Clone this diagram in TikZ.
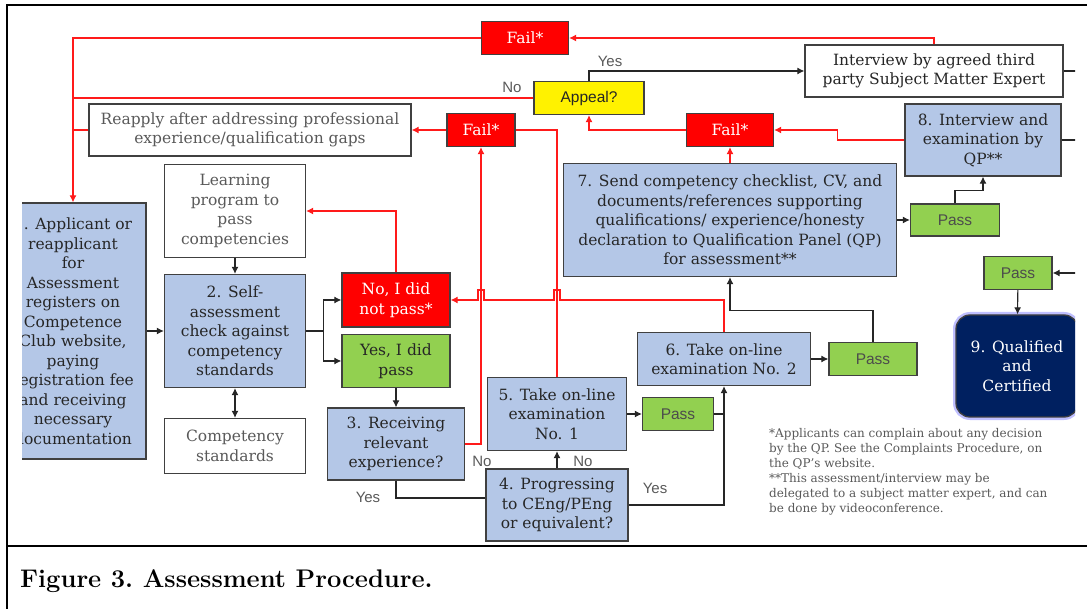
\documentclass[tikz,border=0pt]{standalone}
\usepackage{fontspec}
\newfontfamily\slabfont{DejaVu Serif}
\newfontfamily\labelfont{Liberation Sans}
\usetikzlibrary{arrows.meta}
\definecolor{boxblue}{HTML}{B4C7E7}
\definecolor{boxgreen}{HTML}{92D050}
\definecolor{boxnavy}{HTML}{002060}
\definecolor{linered}{HTML}{FF1A1A}
\definecolor{textgrey}{HTML}{595959}
\definecolor{textdark}{HTML}{262626}

\begin{document}
\begin{tikzpicture}[x=1pt,y=-1pt,
	box/.style={draw=black!75,line width=1.3pt,align=center,inner sep=0pt,
		font=\slabfont\fontsize{15.5}{19.5}\selectfont,text=textdark},
	bluebox/.style={box,fill=boxblue},
	whitebox/.style={box,fill=white,text=textgrey},
	failbox/.style={box,fill=red,text=white},
	passbox/.style={box,fill=boxgreen,text=black!70,font=\labelfont\fontsize{15.5}{19}\selectfont},
	wh/.style 2 args={minimum width=#1,minimum height=#2},
	redline/.style={draw=linered,line width=1.1pt},
	blkline/.style={draw=textdark,line width=1.1pt},
	arr/.style={-{Latex[length=7pt,width=7pt]}},
	lbl/.style={font=\labelfont\fontsize{15}{17}\selectfont,text=textgrey,inner sep=0pt}]
	\useasboundingbox (0,0) rectangle (1087,609);
	\draw[line width=2.5pt] (1087,5) -- (7,5) -- (7,609);
	\draw[line width=2.5pt] (7,546) -- (1087,546);
	\node[anchor=base west,inner sep=0pt,font=\bfseries\fontsize{25.5}{29}\selectfont\frenchspacing] (caption) at (20,587) {Figure 3. Assessment Procedure.};
	\coordinate (edge) at (1080,0);
	\begin{scope}
		\clip (22,7) rectangle (1075,545);
		\node[bluebox,wh={146}{256}] (s1) at (73,331) {1. Applicant or\\reapplicant\\for\\Assessment\\registers on\\Competence\\Club website,\\paying\\registration fee\\and receiving\\necessary\\documentation};
		\node[whitebox,wh={141}{93}] (learn) at (235,211) {Learning\\program to\\pass\\competencies};
		\node[bluebox,wh={141}{113}] (s2) at (235,331) {2. Self-\\assessment\\check against\\competency\\standards};
		\node[whitebox,wh={141}{55}] (comp) at (235,446) {Competency\\standards};
		\node[failbox,wh={108}{54}] (nopass) at (396,300) {No, I did\\not pass*};
		\node[box,fill=boxgreen,wh={108}{53}] (yespass) at (396,361) {Yes, I did\\pass};
		\node[bluebox,wh={137}{72}] (s3) at (396,444) {3. Receiving\\relevant\\experience?};
		\node[bluebox,wh={142}{72}] (s4) at (557,505) {4. Progressing\\to CEng/PEng\\or equivalent?};
		\node[bluebox,wh={139}{73}] (s5) at (557,414) {5. Take on-line\\examination\\No. 1};
		\node[passbox,wh={71}{33}] (pass5) at (678,414) {Pass};
		\node[bluebox,wh={173}{53}] (s6) at (724,359) {6. Take on-line\\examination No. 2};
		\node[passbox,wh={88}{33}] (pass6) at (873,359) {Pass};
		\node[bluebox,wh={333}{113}] (s7) at (730,220) {7. Send competency checklist, CV, and\\documents/references supporting\\qualifications/ experience/honesty\\declaration to Qualification Panel (QP)\\for assessment**};
		\node[passbox,wh={89}{32}] (pass7) at (955,220) {Pass};
		\node[bluebox,wh={156}{72}] (s8) at (983,140) {8. Interview and\\examination by\\QP**};
		\node[whitebox,text=textdark,wh={258}{52}] (third) at (934,71) {Interview by agreed third\\party Subject Matter Expert};
		\node[box,fill=yellow,font=\labelfont\fontsize{15.5}{19}\selectfont,wh={110}{33}] (appeal) at (589,98) {Appeal?};
		\node[failbox,wh={87}{33}] (fail1) at (525,38) {Fail*};
		\node[failbox,wh={68}{33}] (fail2) at (481,130) {Fail*};
		\node[failbox,wh={87}{33}] (fail3) at (730,130) {Fail*};
		\node[whitebox,wh={322}{52}] (reapply) at (250,130) {Reapply after addressing professional\\experience/qualification gaps};
		\node[passbox,wh={68}{33}] (pass9) at (1018,273) {Pass};
		\node[box,fill=boxnavy,text=white,rounded corners=14pt,wh={122}{102},
			preaction={draw=blue!25,line width=6pt}] (s9) at (1017,366) {9. Qualified\\and\\Certified};
		\node[anchor=north west,align=left,inner sep=0pt,text=textgrey,
			font=\slabfont\fontsize{12}{15}\selectfont] (note) at (769,428) {*Applicants can complain about any decision\\by the QP. See the Complaints Procedure, on\\the QP’s website.\\**This assessment/interview may be\\delegated to a subject matter expert, and can\\be done by videoconference.};
		\node[lbl] (yes1) at (610,61) {Yes};
		\node[lbl] (no1) at (512,87) {No};
		\node[lbl] (no2) at (482,461) {No};
		\node[lbl] (no3) at (583,461) {No};
		\node[lbl] (yes2) at (368,497) {Yes};
		\node[lbl] (yes3) at (655,488) {Yes};
		% black connectors
		\draw[blkline,arr] (s1.east) -- (s2.west);
		\draw[blkline,arr] (learn) -- (s2);
		\draw[blkline,{Latex[length=7pt,width=7pt]}-{Latex[length=7pt,width=7pt]}] (s2) -- (comp);
		\draw[blkline] (s2.east) -- ++(17,0) coordinate (fork);
		\draw[blkline,arr] (fork) |- (nopass.west);
		\draw[blkline,arr] (fork) |- (yespass.west);
		\draw[blkline,arr] (yespass) -- (s3);
		\draw[blkline] (s3.south) |- ([yshift=7pt]s4.west);
		\draw[blkline,arr] (s4) -- (s5);
		\draw[blkline,arr] (s5) -- (pass5);
		\draw[blkline,arr] (s4.east) -| (s6.south);
		\draw[blkline] (pass5.east) -- (pass5.east -| s6.south);
		\draw[blkline,arr] (s6) -- (pass6);
		\draw[blkline,arr] (pass6.north) |- ([yshift=-33pt]s7.south) -- (s7.south);
		\draw[blkline,arr] (s7) -- (pass7);
		\draw[blkline,arr] (pass7.north) |- ([yshift=-14pt]s8.south) -- (s8.south);
		\draw[blkline,arr] (appeal.north) |- (third.west);
		\draw[blkline] (third.east) -- (third.east -| edge);
		\draw[blkline] (s8.east) -- (s8.east -| edge);
		\draw[blkline,arr] (pass9.east -| edge) -- (pass9.east);
		\draw[blkline,arr] (pass9) -- (s9);
		% red connectors
		\draw[redline,arr] (fail1.west) -| (s1.north);
		\draw[redline] (appeal.west) -- (appeal.west -| s1.north);
		\draw[redline] (reapply.west) -- (reapply.west -| s1.north);
		\draw[redline,arr] (third.north) |- (fail1.east);
		\draw[redline,arr] (fail2) -- (reapply);
		\draw[redline,arr] (fail3.west) -| (appeal.south);
		\draw[redline,arr] (s7.north) -- (fail3.south);
		\draw[redline,arr] (s8.west) -- ++(-67,0) |- (fail3.east);
		\draw[redline,arr] (nopass.north) |- (learn.east);
		\draw[redline,arr] (s3.east) -| (fail2.south);
		\draw[redline] (s5.north) |- (fail2.east);
		\draw[redline,arr] (s6.north) |- ([xshift=3pt]s5.north |- nopass.east) -- ++(0,-10) -- ++(-6,0) -- ++(0,10)
			-- ([xshift=3pt]fail2.south |- nopass.east) -- ++(0,-10) -- ++(-6,0) -- ++(0,10) -- (nopass.east);
	\end{scope}
\end{tikzpicture}
\end{document}
